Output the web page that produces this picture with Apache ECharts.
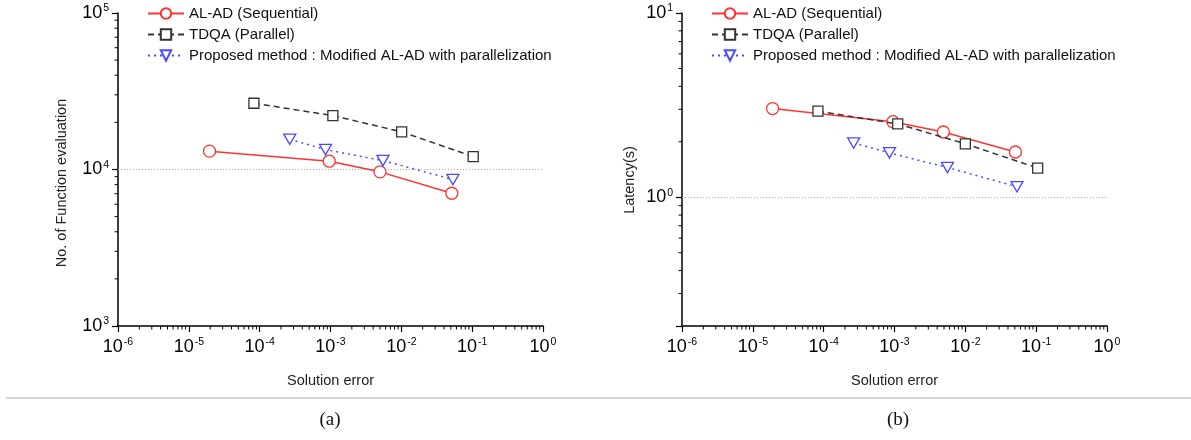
<!DOCTYPE html>
<html><head><meta charset="utf-8">
<script src="https://cdn.jsdelivr.net/npm/echarts@6/dist/echarts.min.js"></script>
<style>html,body{margin:0;padding:0;background:#fff}#c{width:1191px;height:440px}</style>
</head><body><div id="c"></div>
<script>
// ---- data ----
const seriesNames = ['AL-AD (Sequential)', 'TDQA (Parallel)', 'Proposed method : Modified AL-AD with parallelization'];
// (a) number of function evaluations vs solution error
const aladErrA = [1.96e-5, 9.6e-4, 5.0e-3, 0.0516];
const aladNfe  = [13100, 11300, 9660, 7050];
const tdqaErrA = [8.3e-5, 1.08e-3, 0.0101, 0.1035];
const tdqaNfe  = [26500, 22100, 17400, 12100];
const propErrA = [2.66e-4, 8.5e-4, 5.5e-3, 0.0535];
const propNfe  = [15600, 13400, 11400, 8630];
// (b) latency vs solution error
const aladErrB = [1.9e-5, 9.5e-4, 4.9e-3, 0.051];
const aladLat  = [3.03, 2.57, 2.26, 1.76];
const tdqaErrB = [8.3e-5, 1.11e-3, 0.010, 0.105];
const tdqaLat  = [2.93, 2.50, 1.95, 1.44];
const propErrB = [2.65e-4, 8.5e-4, 5.6e-3, 0.0536];
const propLat  = [1.97, 1.74, 1.45, 1.14];
// axis settings / labels
const xRange = [1e-6, 1];
const yRangeA = [1e3, 1e5];
const yRangeB = [0.2, 10];
const xName = 'Solution error';
const yNameA = 'No. of Function evaluation';
const yNameB = 'Latency(s)';
const captions = ['(a)', '(b)'];

// ---- styles ----
const FONT = '"Liberation Sans", Arial, sans-serif';
const RED = '#ff3333', BLK = '#333333', BLU = '#4a4aff';
const zip = (a, b) => a.map((v, i) => [v, b[i]]);

function minorVals(lo, hi) {
  const out = [];
  for (let e = Math.floor(Math.log10(lo)); e <= Math.ceil(Math.log10(hi)); e++) {
    for (let m = 2; m <= 9; m++) {
      const v = m * Math.pow(10, e);
      if (v > lo * 1.0001 && v < hi * 0.9999) out.push(v);
    }
  }
  return out;
}
function supFmt(v) {
  const l = Math.log10(v), e = Math.round(l);
  if (Math.abs(l - e) > 1e-6) return '';
  return '{b|10}{s|' + e + '}';
}
const rich = {
  b: {fontSize: 18, fontFamily: FONT, color: '#000', lineHeight: 20},
  s: {fontSize: 10.5, fontFamily: FONT, color: '#000', lineHeight: 10, verticalAlign: 'top', padding: [0, 0, 0, 1]}
};
function xAxis(gi) {
  return {type: 'log', gridIndex: gi, min: xRange[0], max: xRange[1], splitNumber: 6,
    axisLine: {show: true, onZero: false, lineStyle: {color: '#000', width: 1.5}},
    axisTick: {show: true, inside: false, length: 6, lineStyle: {color: '#000', width: 1.2}},
    splitLine: {show: false},
    axisLabel: {margin: 11, formatter: supFmt, rich: rich},
    name: xName, nameLocation: 'middle', nameGap: 47,
    nameTextStyle: {fontFamily: FONT, fontSize: 14.5, color: '#222'}};
}
function yAxis(gi, r) {
  return {type: 'log', gridIndex: gi, min: r[0], max: r[1],
    axisLine: {show: true, onZero: false, lineStyle: {color: '#000', width: 1.5}},
    axisTick: {show: true, inside: false, length: 6, lineStyle: {color: '#000', width: 1.2}},
    splitLine: {show: false},
    axisLabel: {margin: 9, formatter: supFmt, rich: rich}};
}
function minorSeries(gi, dir, vals, fixed) {
  return {type: 'custom', xAxisIndex: gi, yAxisIndex: gi, silent: true, z: 6,
    data: vals.map(v => dir === 'x' ? [v, fixed] : [fixed, v]),
    renderItem(params, api) {
      const p = api.coord([api.value(0), api.value(1)]);
      const L = 3.5;
      const shape = dir === 'x' ? {x1: p[0], y1: p[1], x2: p[0], y2: p[1] + L}
                                : {x1: p[0] - L, y1: p[1], x2: p[0], y2: p[1]};
      return {type: 'line', shape: shape, style: {stroke: '#000', lineWidth: 1}};
    }};
}
const TRI = 'path://M0,0 L12,0 L6,10.4 Z';
function lineSeries(gi, idx, data, withGrid, gridVal) {
  const cfg = [
    {color: RED, type: 'solid', symbol: 'circle', size: 12},
    {color: BLK, type: [6, 4], symbol: 'rect', size: 10},
    {color: BLU, type: [2, 4], symbol: TRI, size: [12, 10.4]}
  ][idx];
  const s = {name: seriesNames[idx], type: 'line', xAxisIndex: gi, yAxisIndex: gi, data: data,
    symbol: cfg.symbol, symbolSize: cfg.size, z: 3 + idx,
    lineStyle: {color: cfg.color, width: 1.5, type: cfg.type},
    itemStyle: {color: '#fff', borderColor: cfg.color, borderWidth: 1.3}};
  if (withGrid) {
    s.markLine = {silent: true, symbol: 'none', label: {show: false}, z: 1,
      lineStyle: {type: [1, 2], color: '#aaaaaa', width: 1},
      emphasis: {disabled: true}, data: [{yAxis: gridVal}]};
  }
  return s;
}
function legend(left) {
  return {left: left, top: 1, orient: 'vertical', itemWidth: 36, itemHeight: 13, itemGap: 6,
    textStyle: {fontFamily: FONT, fontSize: 15, color: '#111'}, data: seriesNames, selectedMode: false};
}

const chart = echarts.init(document.getElementById('c'), null, {renderer: 'canvas'});
chart.setOption({
  animation: false,
  backgroundColor: '#fff',
  grid: [
    {left: 118, top: 13, width: 425, height: 313},
    {left: 682, top: 13, width: 425, height: 313}
  ],
  legend: [legend(142), legend(706)],
  xAxis: [xAxis(0), xAxis(1)],
  yAxis: [yAxis(0, yRangeA), yAxis(1, yRangeB)],
  series: [
    lineSeries(0, 0, zip(aladErrA, aladNfe), true, 1e4),
    lineSeries(0, 1, zip(tdqaErrA, tdqaNfe)),
    lineSeries(0, 2, zip(propErrA, propNfe)),
    lineSeries(1, 0, zip(aladErrB, aladLat), true, 1),
    lineSeries(1, 1, zip(tdqaErrB, tdqaLat)),
    lineSeries(1, 2, zip(propErrB, propLat)),
    minorSeries(0, 'x', minorVals(xRange[0], xRange[1]), yRangeA[0]),
    minorSeries(0, 'y', minorVals(yRangeA[0], yRangeA[1]), xRange[0]),
    minorSeries(1, 'x', minorVals(xRange[0], xRange[1]), yRangeB[0]),
    minorSeries(1, 'y', minorVals(yRangeB[0], yRangeB[1]), xRange[0])
  ],
  graphic: [
    {type: 'text', x: 62, y: 183, rotation: Math.PI / 2,
      style: {text: yNameA, fontFamily: FONT, fontSize: 14.5, fill: '#222', textAlign: 'center', textVerticalAlign: 'middle'}},
    {type: 'text', x: 630, y: 180, rotation: Math.PI / 2,
      style: {text: yNameB, fontFamily: FONT, fontSize: 14.5, fill: '#222', textAlign: 'center', textVerticalAlign: 'middle'}},
    {type: 'line', shape: {x1: 6, y1: 398, x2: 1191, y2: 398}, style: {stroke: '#c4c4c4', lineWidth: 1.5}},
    {type: 'text', x: 330, y: 420,
      style: {text: captions[0], fontFamily: '"Liberation Serif", "Times New Roman", serif', fontSize: 19, fill: '#111', textAlign: 'center', textVerticalAlign: 'middle'}},
    {type: 'text', x: 898, y: 420,
      style: {text: captions[1], fontFamily: '"Liberation Serif", "Times New Roman", serif', fontSize: 19, fill: '#111', textAlign: 'center', textVerticalAlign: 'middle'}}
  ]
});
</script></body></html>
